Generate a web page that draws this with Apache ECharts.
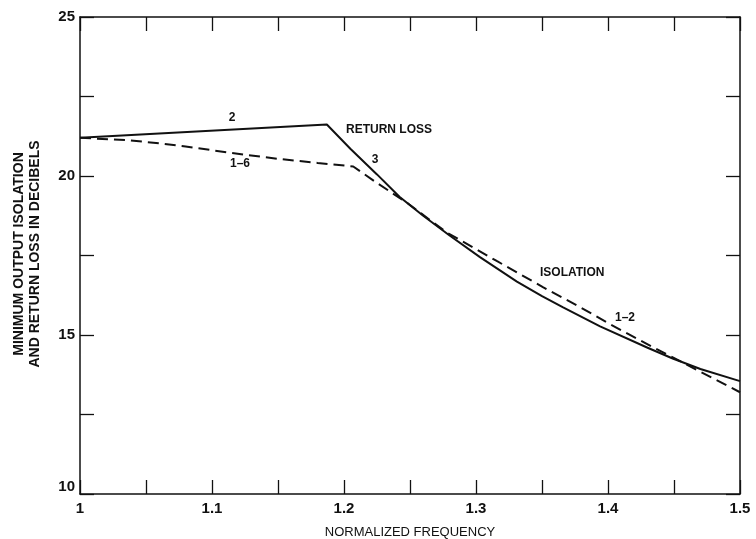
<!DOCTYPE html>
<html>
<head>
<meta charset="utf-8">
<script src="https://cdn.jsdelivr.net/npm/echarts@6/dist/echarts.min.js"></script>
<style>html,body{margin:0;padding:0;background:#fff}#c{width:756px;height:539px}</style>
</head>
<body>
<div id="c"></div>
<script>
// Return loss (solid) curve: [normalized frequency, dB]
const returnLoss = [[1,21.2],[1.187,21.62],[1.205,20.85],[1.225,20.05],[1.242,19.35],[1.26,18.75],[1.28,18.13],[1.303,17.45],[1.331,16.68],[1.35,16.22],[1.366,15.87],[1.394,15.27],[1.43,14.6],[1.449,14.26],[1.47,13.93],[1.5,13.55]];
// Isolation (dashed) curve
const isolation = [[1,21.2],[1.035,21.13],[1.06,21.03],[1.08,20.93],[1.1,20.81],[1.125,20.67],[1.15,20.54],[1.18,20.41],[1.207,20.3],[1.225,19.78],[1.248,19.15],[1.265,18.62],[1.278,18.22],[1.3,17.7],[1.316,17.32],[1.351,16.5],[1.38,15.85],[1.402,15.33],[1.434,14.62],[1.46,14.06],[1.5,13.2]];
const xTicks = [1,1.1,1.2,1.3,1.4,1.5];
const yTicks = [10,15,20,25];
const annotations = [
  {text:'2', x:232, y:118, align:'center'},
  {text:'1–6', x:240, y:164, align:'center'},
  {text:'RETURN LOSS', x:346, y:130, align:'left'},
  {text:'3', x:375, y:160, align:'center'},
  {text:'ISOLATION', x:540, y:273, align:'left'},
  {text:'1–2', x:625, y:318, align:'center'}
];

const font = '"Liberation Sans", Arial, Helvetica, sans-serif';
const chart = echarts.init(document.getElementById('c'), null, {renderer:'canvas'});
const isX = v => xTicks.some(t => Math.abs(t - v) < 1e-6);
const isY = v => yTicks.some(t => Math.abs(t - v) < 1e-6);
const tick = {show:true, inside:true, length:14, lineStyle:{color:'#111', width:1.3}};
const baseX = {type:'value', min:1, max:1.5, interval:0.05, splitLine:{show:false},
  axisLine:{show:true, lineStyle:{color:'#111', width:1.5}}, axisTick:tick};
const baseY = {type:'value', min:10, max:25, interval:2.5, splitLine:{show:false},
  axisLine:{show:true, lineStyle:{color:'#111', width:1.5}}, axisTick:tick};

chart.setOption({
  animation:false,
  backgroundColor:'#fff',
  grid:{left:80, right:16, top:17, bottom:45, containLabel:false, outerBoundsMode:'none'},
  xAxis:[
    Object.assign({}, baseX, {position:'bottom',
      name:'NORMALIZED FREQUENCY', nameLocation:'middle', nameGap:32,
      nameTextStyle:{fontFamily:font, fontSize:13, color:'#111'},
      axisLabel:{margin:7, fontFamily:font, fontSize:15, fontWeight:'bold', color:'#111',
        formatter:v => isX(v) ? String(+v.toFixed(1)) : ''}}),
    Object.assign({}, baseX, {position:'top', axisLabel:{show:false}})
  ],
  yAxis:[
    Object.assign({}, baseY, {position:'left',
      axisLabel:{margin:5, fontFamily:font, fontSize:15, fontWeight:'bold', color:'#111',
        verticalAlignMinLabel:'bottom',
        formatter:v => isY(v) ? String(v) : ''}}),
    Object.assign({}, baseY, {position:'right', axisLabel:{show:false}})
  ],
  graphic: [
    {type:'text', x:27, y:254, rotation:Math.PI/2, style:{text:'MINIMUM OUTPUT ISOLATION\nAND RETURN LOSS IN DECIBELS',
      fill:'#111', font:'bold 14px ' + font, textAlign:'center', textVerticalAlign:'middle', lineHeight:16}}
  ].concat(annotations.map(a => ({type:'text', x:a.x, y:a.y, style:{text:a.text, fill:'#111',
      font:'bold 12px ' + font, textAlign:a.align, textVerticalAlign:'middle'}}))),
  series:[
    {type:'line', data:returnLoss, showSymbol:false, lineStyle:{color:'#111', width:2}},
    {type:'line', data:isolation, showSymbol:false, lineStyle:{color:'#111', width:2, type:[11,6]}}
  ]
});
</script>
</body>
</html>
